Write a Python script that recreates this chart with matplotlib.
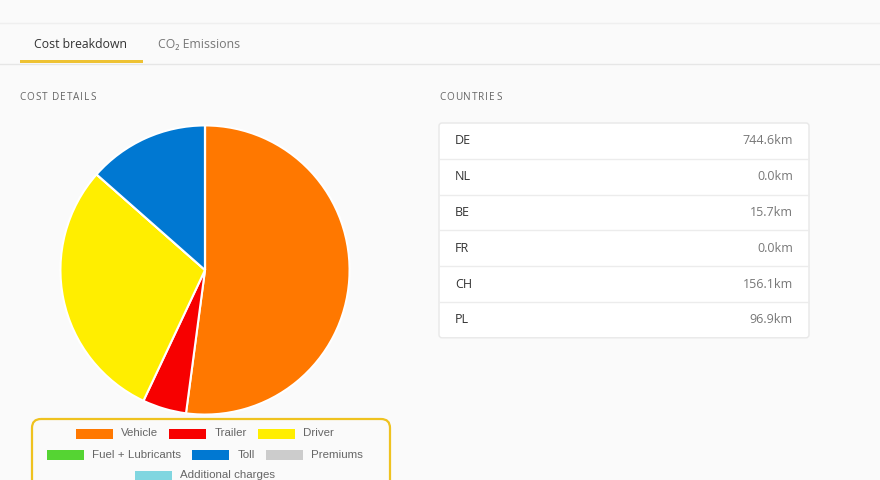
import matplotlib
matplotlib.use("Agg")
import matplotlib.pyplot as plt
from matplotlib.patches import Rectangle, FancyBboxPatch

# cost breakdown (share of total, %)
cost_labels = ["Vehicle", "Trailer", "Driver", "Fuel + Lubricants", "Toll", "Premiums", "Additional charges"]
cost_values = [52.1, 4.9, 29.5, 0.0, 13.5, 0.0, 0.0]
cost_colors = ["#ff7800", "#f70000", "#ffee00", "#55d433", "#0078d2", "#cccccc", "#80d6e0"]

# distance per country
countries = ["DE", "NL", "BE", "FR", "CH", "PL"]
distances = [744.6, 0.0, 15.7, 0.0, 156.1, 96.9]

W, H = 880, 480
fig = plt.figure(figsize=(8.8, 4.8), dpi=100)
fig.patch.set_facecolor("#fafafa")

# overlay in pixel coords (y down)
ov = fig.add_axes([0, 0, 1, 1])
ov.set_xlim(0, W)
ov.set_ylim(H, 0)
ov.axis("off")

ui = "Open Sans"
px = 0.72  # px -> pt
fig.canvas.draw()
rend = fig.canvas.get_renderer()


def text_width(s, **kw):
    t = ov.text(0, 0, s, **kw)
    w = t.get_window_extent(rend).width
    t.remove()
    return w


def spaced(x, y, s, spacing, **kw):
    # text with letter spacing, drawn char by char
    for ch in s:
        ov.text(x, y, ch, va="center", **kw)
        x += text_width(ch, **kw) + spacing


# top bars and tabs
ov.plot([0, W], [22.5, 22.5], color="#efefef", lw=1)
ov.plot([0, W], [63.5, 63.5], color="#e6e6e6", lw=1)
ov.text(81, 44, "Cost breakdown", fontsize=12.3 * px, color="#333333", family=ui, ha="center", va="center")
ov.text(199, 44, "CO\u2082 Emissions", fontsize=12.3 * px, color="#777777", family=ui, ha="center", va="center")
ov.add_patch(Rectangle((20, 60), 123, 2.5, color="#eec233", lw=0))

# section headings
hk = dict(fontsize=10 * px, color="#666666", family=ui)
spaced(19, 97, "COST DETAILS", 1.0, **hk)
spaced(439, 97, "COUNTRIES", 1.0, **hk)

# countries table
top, row_h = 123, 35.8
ov.add_patch(FancyBboxPatch((439, top), 370, row_h * len(countries), boxstyle="round,pad=0,rounding_size=3",
                            facecolor="white", edgecolor="#e8e8e8", lw=1))
for i, (c, d) in enumerate(zip(countries, distances)):
    yc = top + row_h * (i + 0.5)
    if i > 0:
        ov.plot([440, 808], [top + row_h * i] * 2, color="#ececec", lw=1)
    ov.text(455, yc, c, fontsize=12.5 * px, color="#333333", family=ui, va="center")
    ov.text(793, yc, f"{d:.1f}km", fontsize=12.5 * px, color="#777777", family=ui, va="center", ha="right")

# pie
cx, cy, r = 205, 270, 146
pa = fig.add_axes([(cx - r) / W, (H - cy - r) / H, 2 * r / W, 2 * r / H])
pa.pie(cost_values, colors=cost_colors, startangle=90, counterclock=False,
       wedgeprops=dict(edgecolor="white", linewidth=1.5))
pa.set_xlim(-1.01, 1.01)
pa.set_ylim(-1.01, 1.01)
pa.axis("off")

# legend box
ov.add_patch(FancyBboxPatch((32, 419), 358, 80, boxstyle="round,pad=0,rounding_size=9",
                            facecolor="none", edgecolor="#efc21f", lw=1.6, clip_on=False))
lk = dict(fontsize=11.5 * px, family="Liberation Sans")
sw, sh, gap, item_gap = 37, 10, 8, 11
items = [(lab, col, sw + gap + text_width(lab, **lk)) for lab, col in zip(cost_labels, cost_colors)]
rows, cur, cw = [], [], 0
for it in items:
    need = it[2] + (item_gap if cur else 0)
    if cur and cw + need > 330:
        rows.append(cur)
        cur, cw = [], 0
        need = it[2]
    cur.append(it)
    cw += need
rows.append(cur)
for ri, row in enumerate(rows):
    yc = 433.5 + ri * 21
    total = sum(it[2] for it in row) + item_gap * (len(row) - 1)
    x = 205 - total / 2
    for lab, col, w in row:
        ov.add_patch(Rectangle((x, yc - sh / 2), sw, sh, color=col, lw=0))
        ov.text(x + sw + gap, yc, lab, color="#666666", va="center", **lk)
        x += w + item_gap

fig.savefig("out.png", dpi=100, facecolor=fig.get_facecolor())
